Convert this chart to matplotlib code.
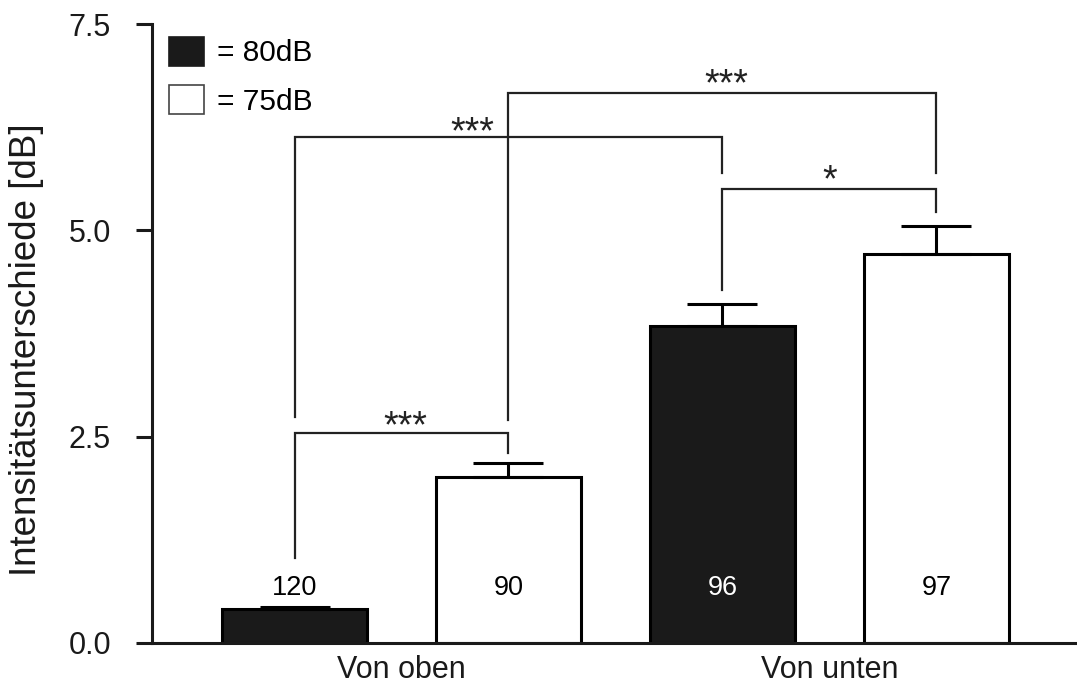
import matplotlib.pyplot as plt
from matplotlib.patches import Patch

plt.rcParams['font.family'] = ['Liberation Sans', 'DejaVu Sans']

# bar data
x = [0, 1, 2, 3]
means = [0.41, 2.01, 3.84, 4.71]
errs = [0.03, 0.17, 0.27, 0.34]
colors = ['#1a1a1a', 'white', '#1a1a1a', 'white']
n_labels = ['120', '90', '96', '97']
n_colors = ['black', 'black', 'white', 'black']
groups = ['Von oben', 'Von unten']
group_pos = [0.5, 2.5]

# significance brackets: left x, right x, bar height, left leg end, right leg end
br_x1 = [0, 0, 1, 2]
br_x2 = [1, 2, 3, 3]
br_y = [2.54, 6.13, 6.66, 5.50]
br_y1 = [1.03, 2.74, 2.70, 4.28]
br_y2 = [2.30, 5.69, 5.69, 5.22]
stars = ['***', '***', '***', '*']
star_x = [0.516, 0.83, 2.016, 2.50]
star_y = [2.49, 6.05, 6.64, 5.47]

fig = plt.figure(figsize=(10.77, 6.88), dpi=100)
ax = fig.add_axes([152 / 1077, 1 - 643 / 688, 1 - 152 / 1077, 619 / 688])

ax.bar(x, means, width=0.678, color=colors, edgecolor='black', linewidth=2.2, zorder=2)
ax.errorbar(x, means, yerr=[[0] * 4, errs], fmt='none', ecolor='black',
            elinewidth=2.2, capsize=25, capthick=2.2, zorder=3)

for xi, lab, c in zip(x, n_labels, n_colors):
    ax.text(xi, 0.58, lab, ha='center', va='baseline', fontsize=19.5, color=c, zorder=4)

for x1, x2, yb, y1, y2 in zip(br_x1, br_x2, br_y, br_y1, br_y2):
    ax.plot([x1, x1, x2, x2], [y1, yb, yb, y2], color='#222222', lw=1.6, zorder=1,
            solid_joinstyle='miter')
for sx, sy, s in zip(star_x, star_y, stars):
    ax.text(sx, sy, s, ha='center', va='baseline', fontsize=27, color='#222222')

ax.set_xlim(-0.666, 3.657)
ax.set_ylim(0, 7.5)
ax.set_yticks([0, 2.5, 5.0, 7.5])
ax.set_yticklabels(['0.0', '2.5', '5.0', '7.5'])
ax.set_xticks(group_pos)
ax.set_xticklabels(groups)
ax.tick_params(axis='y', length=11.5, width=2.2, pad=18, labelsize=22, colors='#1a1a1a')
ax.tick_params(axis='x', length=0, pad=9, labelsize=22, colors='#1a1a1a')
for s in ['top', 'right']:
    ax.spines[s].set_visible(False)
for s in ['left', 'bottom']:
    ax.spines[s].set_linewidth(2.2)
    ax.spines[s].set_color('#1a1a1a')

fig.text(27 / 1077, 1 - 350 / 688, 'Intensitätsunterschiede [dB]', rotation=90,
         ha='center', va='center', fontsize=26.5, color='#1a1a1a')

handles = [Patch(facecolor='#1a1a1a', edgecolor='#1a1a1a', linewidth=1.2),
           Patch(facecolor='white', edgecolor='#444444', linewidth=1.2)]
fig.legend(handles, ['= 80dB', '= 75dB'], loc='upper left',
           bbox_to_anchor=(169 / 1077, 1 - 37 / 688), bbox_transform=fig.transFigure,
           frameon=False, fontsize=21.5, handlelength=1.17, handleheight=1.1,
           handletextpad=0.45, labelspacing=0.6, borderpad=0, borderaxespad=0)

fig.savefig('out.png', dpi=100)
